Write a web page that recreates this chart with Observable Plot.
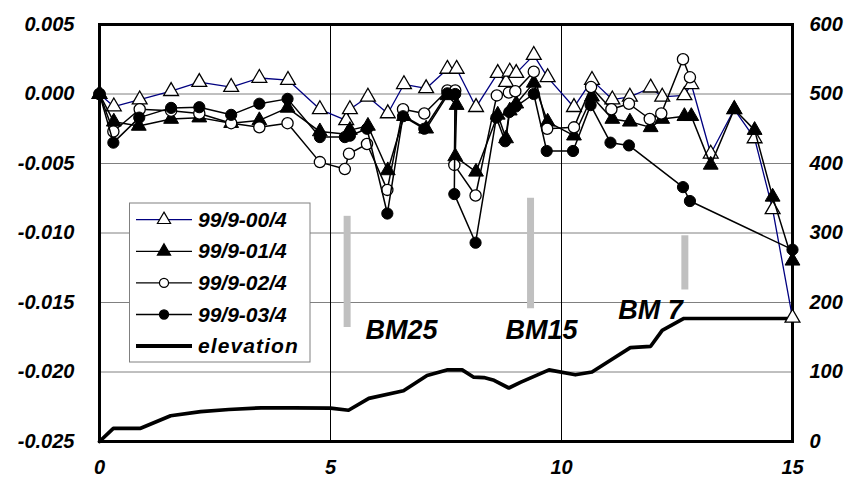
<!DOCTYPE html>
<html>
<head>
<meta charset="utf-8">
<script src="https://cdn.jsdelivr.net/npm/d3@7"></script>
<script src="https://cdn.jsdelivr.net/npm/@observablehq/plot@0.6"></script>
<style>
  html, body { margin: 0; padding: 0; background: white; overflow: hidden; }
  #chart svg { display: block; }
  #chart svg text { font-family: 'Liberation Sans', Arial, Helvetica, sans-serif; font-weight: bold; font-style: italic; }
</style>
</head>
<body>
<div id="chart"></div>
<script>
// ---- Data ----
const seriesNames = ["99/9-00/4", "99/9-01/4", "99/9-02/4", "99/9-03/4", "elevation"];

const xA = [0, 0.31, 0.87, 1.55, 2.16, 2.85, 3.46, 4.08, 4.77, 5.34, 5.42, 5.81, 6.24, 6.59, 7.07, 7.53, 7.73, 8.15, 8.62, 8.8, 8.88, 9.02, 9.4, 9.7, 10.27, 10.66, 11.1, 11.48, 11.93, 12.18, 12.66, 12.81, 13.23, 13.74, 14.18, 14.57, 15];
const yA = [0, -0.0009, -0.0004, 0.0002, 0.00085, 0.0005, 0.00115, 0.001, -0.0011, -0.0019, -0.0011, -0.0002, -0.0014, 0.0007, 0.0004, 0.0018, 0.0018, -0.00095, 0.0015, 0.00085, 0.0016, 0.0015, 0.0028, 0.0012, -0.00095, 0.001, -0.0004, -0.0002, 0.00045, -0.0002, -0.0001, 0.0007, -0.0043, -0.0011, -0.0032, -0.0083, -0.0161];

const xB = [0, 0.31, 0.85, 1.55, 2.16, 2.85, 3.46, 4.07, 4.77, 5.36, 5.42, 5.81, 6.24, 6.59, 7.07, 7.53, 7.73, 7.7, 8.15, 8.62, 8.8, 8.88, 9.02, 9.4, 9.7, 10.27, 10.66, 11.1, 11.48, 11.93, 12.18, 12.66, 12.81, 13.23, 13.74, 14.18, 14.57, 15];
const yB = [0, -0.002, -0.0023, -0.0018, -0.0017, -0.0021, -0.0019, -0.001, -0.0027, -0.0029, -0.0026, -0.0023, -0.0055, -0.0016, -0.0025, -0.0001, -0.0008, -0.0045, -0.0056, -0.0015, -0.0032, -0.0012, -0.0007, 0.0008, -0.002, -0.003, -0.0002, -0.0018, -0.002, -0.0024, -0.0018, -0.0016, -0.0016, -0.0051, -0.0011, -0.0026, -0.0074, -0.012];

const xC = [0, 0.3, 0.87, 1.55, 2.16, 2.85, 3.46, 4.07, 4.77, 5.31, 5.4, 5.79, 6.23, 6.57, 7.03, 7.53, 7.7, 7.68, 8.14, 8.6, 8.86, 9.0, 9.4, 9.69, 10.27, 10.64, 11.08, 11.46, 11.91, 12.16, 12.63, 12.78];
const yC = [0, -0.0027, -0.0011, -0.0012, -0.0014, -0.0021, -0.0024, -0.0021, -0.0049, -0.0054, -0.0043, -0.0036, -0.0069, -0.0011, -0.0014, 0.00025, 0.00025, -0.0051, -0.0073, -0.0001, 0.0001, 0.0002, 0.0016, -0.0025, -0.0024, 0.0005, -0.0011, -0.0007, -0.0018, -0.0014, 0.0025, 0.0012];

const xD = [0, 0.3, 0.86, 1.55, 2.16, 2.85, 3.46, 4.07, 4.77, 5.31, 5.42, 5.79, 6.23, 6.57, 7.03, 7.53, 7.7, 7.68, 8.14, 8.59, 8.78, 8.87, 9.01, 9.4, 9.68, 10.25, 10.63, 11.06, 11.46, 12.63, 12.78, 15];
const yD = [0, -0.0035, -0.0017, -0.001, -0.00095, -0.0015, -0.0007, -0.00035, -0.0031, -0.0031, -0.003, -0.0025, -0.0086, -0.0016, -0.0025, 0.00005, 0, -0.0072, -0.0107, -0.0017, -0.0034, -0.0013, -0.0009, 0, -0.0041, -0.0041, -0.0008, -0.0035, -0.0037, -0.0067, -0.0077, -0.0112];

// elevation (right axis, m)
const xE = [0, 0.3, 0.89, 1.54, 2.19, 2.8, 3.5, 4.2, 5.0, 5.39, 5.83, 6.58, 7.09, 7.52, 7.85, 8.1, 8.32, 8.54, 8.86, 9.11, 9.73, 10.3, 10.66, 11.06, 11.49, 11.93, 12.18, 12.65, 15];
const yE = [0, 19, 19, 37, 43, 46, 48.5, 48.5, 48, 45, 62, 73, 95, 103, 103, 92.5, 92, 88, 77, 85, 103, 96, 100, 117, 135, 137, 160, 177, 177];

// benchmarks (gray bars, left-axis units) and their labels
const bmNames  = ["BM25", "BM15", "BM 7"];
const bmX      = [5.36, 9.33, 12.67];
const bmTop    = [-0.0088, -0.0075, -0.0102];
const bmBottom = [-0.0168, -0.01545, -0.0141];
const bmLabelX = [5.76, 8.79, 11.23];
const bmLabelY = [-0.0176, -0.0176, -0.0162];

// axes
const xTicks = [0, 5, 10, 15];
const xTickLabels = ["0", "5", "10", "15"];
const yTicks = [0.005, 0, -0.005, -0.010, -0.015, -0.020, -0.025];
const yTickLabels = ["0.005", "0.000", "-0.005", "-0.010", "-0.015", "-0.020", "-0.025"];
const elevTicks = [600, 500, 400, 300, 200, 100, 0];
const elevTickLabels = ["600", "500", "400", "300", "200", "100", "0"];

// ---- Build ----
const yMin = -0.025, yMax = 0.005, eMax = 600;
const elevToLeft = e => yMin + e / eMax * (yMax - yMin);
const rightTickPos = elevTicks.map(elevToLeft);

const zip = (xs, ys) => xs.map((x, i) => ({x, y: ys[i]}));
const A = zip(xA, yA), B = zip(xB, yB), C = zip(xC, yC), D = zip(xD, yD);
const E = xE.map((x, i) => ({x, y: elevToLeft(yE[i])}));
const BM = bmNames.map((n, i) => ({name: n, x: bmX[i], y1: bmTop[i], y2: bmBottom[i], lx: bmLabelX[i], ly: bmLabelY[i]}));

const font = "'Liberation Sans', Arial, Helvetica, sans-serif";
const navy = "#000080";

const chart = Plot.plot({
  width: 849,
  height: 479,
  marginLeft: 99,
  marginRight: 57,
  marginTop: 24,
  marginBottom: 38,
  x: {domain: [0, 15]},
  y: {domain: [yMin, yMax]},
  style: {fontFamily: font, fontSize: "20px", fontWeight: "bold", fontStyle: "italic", background: "white", color: "black"},
  marks: [
    Plot.ruleY(yTicks, {stroke: "#808080", strokeWidth: 1}),
    Plot.ruleX([5, 10], {stroke: "black", strokeWidth: 1}),
    Plot.ruleX(BM, {x: "x", y1: "y1", y2: "y2", stroke: "#c0c0c0", strokeWidth: 7}),
    Plot.text(BM, {x: "lx", y: "ly", text: "name", textAnchor: "start", lineAnchor: "bottom", fontSize: 27, fontWeight: "bold", fontStyle: "italic", fill: "black"}),
    Plot.line(E, {x: "x", y: "y", stroke: "black", strokeWidth: 3.7}),
    Plot.frame({stroke: "black", strokeWidth: 3}),
    // series 00/4
    Plot.line(A, {x: "x", y: "y", stroke: navy, strokeWidth: 1.3}),
    Plot.dot(A, {x: "x", y: "y", symbol: "triangle", r: 5.5, fill: "white", stroke: "black", strokeWidth: 1.3}),
    // series 01/4
    Plot.line(B, {x: "x", y: "y", stroke: "black", strokeWidth: 1.5}),
    Plot.dot(B, {x: "x", y: "y", symbol: "triangle", r: 5.5, fill: "black", stroke: "black", strokeWidth: 1}),
    // series 02/4
    Plot.line(C, {x: "x", y: "y", stroke: "black", strokeWidth: 1.5}),
    Plot.dot(C, {x: "x", y: "y", symbol: "circle", r: 5.6, fill: "white", stroke: "black", strokeWidth: 1.3}),
    // series 03/4
    Plot.line(D, {x: "x", y: "y", stroke: "black", strokeWidth: 1.5}),
    Plot.dot(D, {x: "x", y: "y", symbol: "circle", r: 5.6, fill: "black", stroke: "black", strokeWidth: 1}),
    // axes
    Plot.axisY(yTicks, {anchor: "left", tickSize: 0, tickPadding: 25, label: null,
      tickFormat: d => yTickLabels[yTicks.indexOf(d)], fontSize: 20, fontWeight: "bold", fontStyle: "italic"}),
    Plot.axisY(rightTickPos, {anchor: "right", tickSize: 0, tickPadding: 17, label: null,
      tickFormat: d => elevTickLabels[rightTickPos.indexOf(d)], fontSize: 20, fontWeight: "bold", fontStyle: "italic"}),
    Plot.axisX(xTicks, {anchor: "bottom", tickSize: 0, tickPadding: 18, label: null,
      tickFormat: d => xTickLabels[xTicks.indexOf(d)], fontSize: 20, fontWeight: "bold", fontStyle: "italic"})
  ]
});

// ---- Legend (inside plot area) ----
const svg = d3.select(chart);
const lg = svg.append("g")
  .attr("font-family", font).attr("font-weight", "bold").attr("font-style", "italic")
  .attr("font-size", 21).attr("text-anchor", "start");
lg.append("rect").attr("x", 129.5).attr("y", 203).attr("width", 180.5).attr("height", 159)
  .attr("fill", "white").attr("stroke", "#808080").attr("stroke-width", 1);
const rows = [
  {stroke: navy, sym: d3.symbolTriangle, fill: "white", w: 1.3},
  {stroke: "black", sym: d3.symbolTriangle, fill: "black", w: 1.3},
  {stroke: "black", sym: d3.symbolCircle, fill: "white", w: 1.3},
  {stroke: "black", sym: d3.symbolCircle, fill: "black", w: 1.3},
  {stroke: "black", sym: null, fill: null, w: 4}
];
const baseY = 226.7, step = 31.6;
rows.forEach((r, i) => {
  const bl = baseY + i * step;
  const cy = bl - 7;
  lg.append("line").attr("x1", 136).attr("x2", 192).attr("y1", cy).attr("y2", cy)
    .attr("stroke", r.stroke).attr("stroke-width", r.w);
  if (r.sym) {
    const size = r.sym === d3.symbolTriangle ? 75 : 65;
    lg.append("path").attr("d", d3.symbol(r.sym, size)()).attr("transform", `translate(164,${cy})`)
      .attr("fill", r.fill).attr("stroke", "black").attr("stroke-width", 1.2);
  }
  const t = lg.append("text").attr("x", 198).attr("y", bl).attr("fill", "black").attr("text-anchor", "start").text(seriesNames[i]);
  if (!r.sym) t.attr("letter-spacing", 1.1);
});

document.getElementById("chart").appendChild(chart);
</script>
</body>
</html>
